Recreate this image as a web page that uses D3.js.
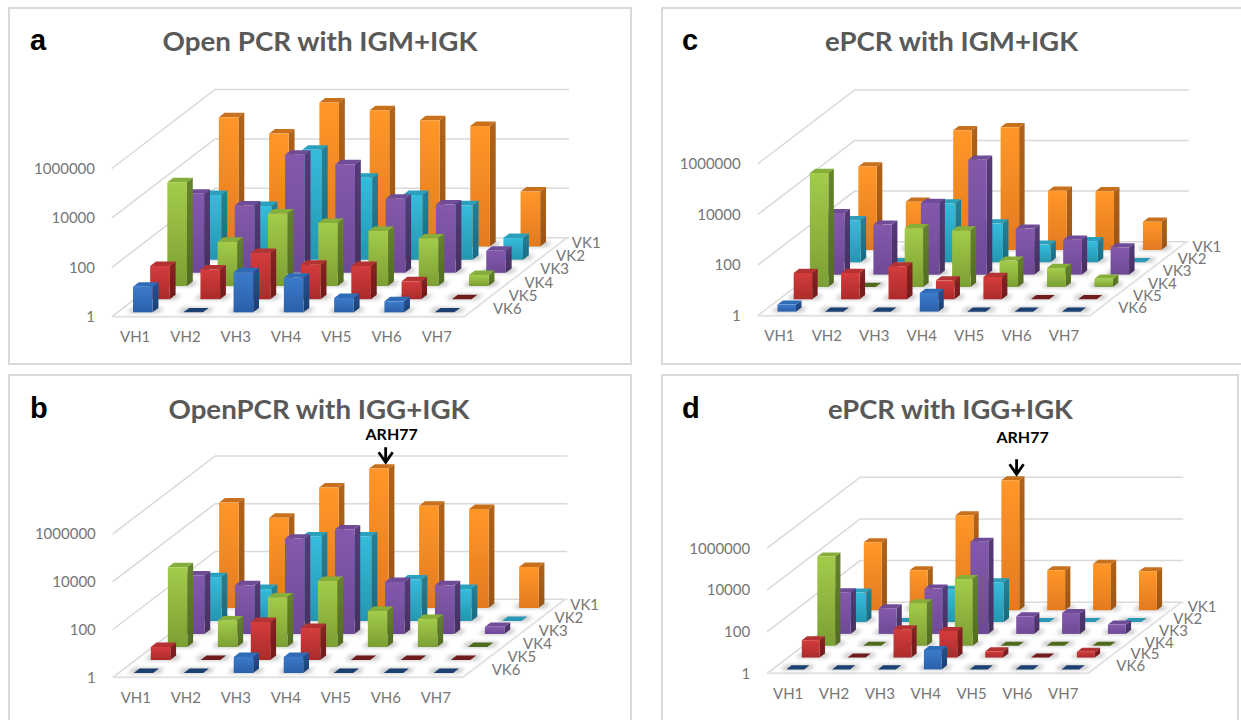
<!DOCTYPE html>
<meta charset="utf-8">
<style>
  body { margin: 0; background: #fff; }
  text { font-family: Lato, "Open Sans", sans-serif; }
</style>

<!-- Load d3.js -->
<script src="https://d3js.org/d3.v7.min.js"></script>

<div id="my_dataviz"></div>
<script>

const vhLabels = ["VH1", "VH2", "VH3", "VH4", "VH5", "VH6", "VH7"];
const vkLabels = ["VK1", "VK2", "VK3", "VK4", "VK5", "VK6"];
const tickValues = [1, 100, 10000, 1000000];

// read counts off the log axis, one row per VK (VK1 first), one column per VH. 1 = empty cell
const openIgm = [
  [170000, 38000, 680000, 330000, 130000, 76000, 170],
  [420, 150, 28000, 2100, 420, 160, 7.5],
  [1600, 540, 60000, 25000, 1000, 580, 7.8],
  [16000, 62, 870, 360, 170, 85, 2.8],
  [22, 16, 75, 25, 22, 5.3, 1],
  [11, 1, 42, 25, 3.8, 2.8, 1]
];
const openIgg = [
  [26000, 6000, 110000, 680000, 19000, 14000, 52],
  [69, 22, 3500, 3500, 55, 22, 1],
  [280, 110, 9800, 24000, 150, 110, 2],
  [2200, 13, 120, 580, 32, 15, 1],
  [3.5, 1, 39, 22, 1, 1, 1],
  [1, 1, 4.7, 4.7, 1, 1, 1]
];
const ePcrIgm = [
  [2000, 80, 54000, 71000, 220, 210, 13],
  [46, 1, 210, 34, 5, 6.8, 1],
  [270, 95, 680, 35000, 66, 24, 12],
  [32000, 1, 210, 170, 11, 5.6, 2.1],
  [11, 11, 20, 5.6, 7.6, 1, 1],
  [1.9, 1, 1, 5.5, 1, 1, 1]
];
const ePcrIgg = [
  [1800, 83, 36000, 1700000, 83, 170, 74],
  [26, 1, 35, 80, 1, 1, 1],
  [100, 17, 150, 26000, 7, 10, 2.8],
  [19000, 1, 110, 1600, 1, 1, 1],
  [6.8, 1, 23, 19, 2, 1, 1.9],
  [1, 1, 1, 8.5, 1, 1, 1]
];

// face colours per VK: front top, front bottom, side top, side bottom, top face, flat tile
const vkColors = [
  ["#ff9729", "#e37a1f", "#b0631a", "#9a5414", "#c9701c", "#c9701c"],
  ["#36bcdc", "#2596b0", "#23809a", "#1b6a80", "#2aa0bc", "#2a98b4"],
  ["#8459ac", "#6d4a96", "#553a78", "#46305f", "#6f4c98", "#5a3a80"],
  ["#a3cc4a", "#7c9f33", "#65842a", "#526c20", "#86ae3a", "#4f6b1f"],
  ["#d43c3c", "#ac2b2b", "#8a2224", "#701a1c", "#b43030", "#701a1c"],
  ["#3b7bca", "#2b60aa", "#245096", "#1c3f70", "#2f6cb8", "#1c3f70"]
];

// oblique frame of each chart: front-left floor corner, floor width, depth vector, px per 2 decades
const panels = [
  {letter: "a", title: "Open PCR with IGM+IGK", values: openIgm, ox: 112, oy: 316.7, w: 352, dx: 103, dy: 79, h: 49.4,
   titleX: 320, titleY: 51, letterX: 30, letterY: 50, titleW: 315},
  {letter: "b", title: "OpenPCR with IGG+IGK", values: openIgg, ox: 112.8, oy: 677.3, w: 350, dx: 102.5, dy: 78, h: 47.8,
   titleX: 319, titleY: 419, letterX: 30, letterY: 418, titleW: 301, note: 22},
  {letter: "c", title: "ePCR with IGM+IGK", values: ePcrIgm, ox: 757.7, oy: 315.7, w: 332, dx: 97, dy: 74, h: 50.6,
   titleX: 951.6, titleY: 51, letterX: 682, letterY: 50, titleW: 253},
  {letter: "d", title: "ePCR with IGG+IGK", values: ePcrIgg, ox: 767.2, oy: 673.3, w: 321, dx: 93, dy: 71, h: 41.7,
   titleX: 950.4, titleY: 419, letterX: 682, letterY: 418, titleW: 245, note: 31}
];

const svg = d3.select("#my_dataviz")
  .append("svg")
    .attr("width", 1241)
    .attr("height", 720)
    .style("display", "block");

const defs = svg.append("defs");
defs.append("filter").attr("id", "soft")
    .attr("x", "-50%").attr("y", "-100%").attr("width", "200%").attr("height", "300%")
  .append("feGaussianBlur").attr("stdDeviation", 2.2);
// the source is a soft screenshot, take the hard edge off the bars
defs.append("filter").attr("id", "edge")
    .attr("filterUnits", "userSpaceOnUse")
    .attr("x", 0).attr("y", 0).attr("width", 1241).attr("height", 720)
  .append("feGaussianBlur").attr("stdDeviation", 0.45);

vkColors.forEach((c, i) => {
  [["front", c[0], c[1]], ["side", c[2], c[3]]].forEach(g => {
    const grad = defs.append("linearGradient")
      .attr("id", `${g[0]}${i}`)
      .attr("x1", 0).attr("y1", 0).attr("x2", 0).attr("y2", 1);
    grad.append("stop").attr("offset", 0).attr("stop-color", g[1]);
    grad.append("stop").attr("offset", 1).attr("stop-color", g[2]);
  });
});

// panel frames, the right-hand column runs off the page at the top
const frames = [[9, 8, 622, 356], [9, 375, 622, 360], [662, 8, 600, 356], [662, 375, 576, 360]];
svg.append("g").selectAll("rect")
  .data(frames)
  .join("rect")
    .attr("x", d => d[0]).attr("y", d => d[1])
    .attr("width", d => d[2]).attr("height", d => d[3])
    .attr("fill", "#fff")
    .attr("stroke", "#d9d9d9")
    .attr("stroke-width", 2);

panels.forEach(drawPanel);

function drawPanel(p) {
  const g = svg.append("g");

  const x = d3.scaleBand().domain(vhLabels).range([0, p.w]).paddingInner(0.61).paddingOuter(0.305);
  // depth as a fraction of the floor, VK6 at the front
  const z = d3.scaleBand().domain(vkLabels.slice().reverse()).range([0, 1]).paddingInner(0.66).paddingOuter(0.33);
  const y = d3.scaleLog().domain([1, 1000000]).range([0, p.h * 3]);

  const project = (px, pz, ph) => [p.ox + px + pz * p.dx, p.oy - pz * p.dy - ph];
  const poly = pts => pts.map(q => q.join(",")).join(" ");

  // walls
  const grid = g.append("g").attr("stroke", "#d9d9d9").attr("stroke-width", 1.5).attr("fill", "none");
  tickValues.forEach(t => {
    grid.append("polyline")
      .attr("points", poly([project(0, 0, y(t)), project(0, 1, y(t)), project(p.w + 2, 1, y(t))]));
  });

  // floor edge
  g.append("polyline")
    .attr("points", poly([project(0, 0, 0), project(p.w, 0, 0), project(p.w, 1, 0)]))
    .attr("fill", "none")
    .attr("stroke", "#e2e2e2")
    .attr("stroke-width", 2);

  const bars = g.append("g").attr("filter", "url(#edge)");
  vkLabels.forEach((vk, row) => {
    const z0 = z(vk), z1 = z0 + z.bandwidth();
    vhLabels.forEach((vh, col) => {
      const v = p.values[row][col];
      const x0 = x(vh), x1 = x0 + x.bandwidth(), ht = y(v);
      const cell = bars.append("g");

      // soft shadow round the foot
      cell.append("polygon")
        .attr("points", poly([project(x0 - 6, z0, 0), project(x1 + 6, z0, 0), project(x1 + 6, z1, 0), project(x0 - 6, z1, 0)]))
        .attr("fill", "#000")
        .attr("opacity", 0.28)
        .attr("filter", "url(#soft)");

      cell.append("polygon")
        .attr("points", poly([project(x0, z0, ht), project(x1, z0, ht), project(x1, z1, ht), project(x0, z1, ht)]))
        .attr("fill", ht > 0 ? vkColors[row][4] : vkColors[row][5]);
      if (ht <= 0) return;

      cell.append("polygon")
        .attr("points", poly([project(x1, z0, 0), project(x1, z1, 0), project(x1, z1, ht), project(x1, z0, ht)]))
        .attr("fill", `url(#side${row})`);
      cell.append("polygon")
        .attr("points", poly([project(x0, z0, 0), project(x1, z0, 0), project(x1, z0, ht), project(x0, z0, ht)]))
        .attr("fill", `url(#front${row})`);
    });
  });

  // value axis, at the front-left corner
  const yAxis = d3.scaleLog().domain([1, 1000000]).range([p.oy, p.oy - p.h * 3]);
  const axisY = g.append("g")
    .attr("transform", `translate(${p.ox - 17},0)`)
    .call(d3.axisLeft(yAxis).tickValues(tickValues).tickFormat(d3.format("d")).tickSize(0).tickPadding(0));
  const axisX = g.append("g")
    .attr("transform", `translate(${p.ox - 2},${p.oy})`)
    .call(d3.axisBottom(x).tickSize(0).tickPadding(15));
  [axisY, axisX].forEach(a => {
    a.select(".domain").remove();
    a.selectAll("text").attr("font-family", "Lato").attr("font-size", 15).attr("fill", "#767676");
  });

  // VK labels step along the right floor edge, a little steeper than the edge itself
  const vkPos = d => project(p.w + 21, (z(d) + z.bandwidth() / 2) * 0.92, 0)[0];
  g.append("g").selectAll("text")
    .data(vkLabels)
    .join("text")
    .text(d => d)
    .attr("x", d => vkPos(d))
    .attr("y", d => project(0, z(d) + z.bandwidth() / 2, 0)[1])
    .attr("dominant-baseline", "middle")
    .attr("font-size", 15)
    .attr("fill", "#767676");

  g.append("text")
    .text(p.title)
    .attr("x", p.titleX).attr("y", p.titleY)
    .attr("text-anchor", "middle")
    .attr("font-size", 27)
    .attr("font-weight", 700)
    .attr("fill", "#595959")
    .attr("textLength", p.titleW)
    .attr("lengthAdjust", "spacingAndGlyphs");

  g.append("text")
    .text(p.letter)
    .attr("x", p.letterX).attr("y", p.letterY)
    .style("font-family", "'Liberation Sans'")
    .attr("font-size", 29)
    .attr("font-weight", 700)
    .attr("fill", "#000");

  // ARH77 marker sits on the tallest VK1 bar
  if (p.note) {
    const row = 0, col = 3;
    const top = project(x(vhLabels[col]) + x.bandwidth() / 2, z(vkLabels[row]) + z.bandwidth(), y(p.values[row][col]));
    const tx = top[0] + 1, ty = top[1] - 2;
    g.append("path")
      .attr("d", `M${tx},${ty - 15}V${ty}M${tx - 7},${ty - 10}L${tx},${ty}L${tx + 7},${ty - 10}`)
      .attr("fill", "none")
      .attr("stroke", "#000")
      .attr("stroke-width", 2.8);
    g.append("text")
      .text("ARH77")
      .attr("x", tx + 6).attr("y", ty - p.note)
      .attr("text-anchor", "middle")
      .attr("font-size", 16)
      .attr("font-weight", 700)
      .attr("fill", "#000");
  }
}

</script>
